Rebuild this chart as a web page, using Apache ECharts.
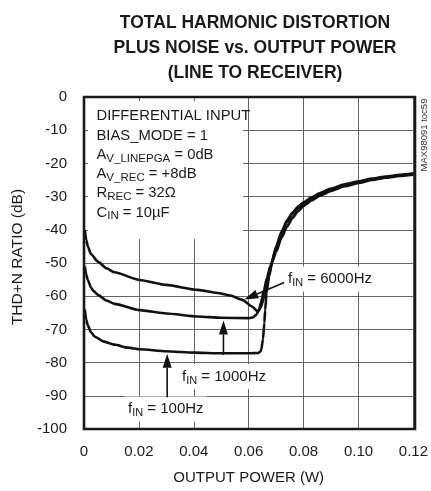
<!DOCTYPE html>
<html><head><meta charset="utf-8">
<script src="https://cdn.jsdelivr.net/npm/echarts@6/dist/echarts.min.js"></script>
<style>html,body{margin:0;padding:0;background:#fff}#c{width:431px;height:491px}</style>
</head><body><div id="c"></div>
<script>
// ---- data (output power W, THD+N dB) ----
const thd100 = [[0.0003,-64],[0.0008,-67],[0.0014,-68.8],[0.0025,-70.8],[0.004,-72.2],[0.007,-73.6],[0.0111,-74.6],[0.016,-75.5],[0.0203,-76],[0.03,-76.6],[0.04,-77],[0.05,-77.2],[0.06,-77.2],[0.0635,-77.1],[0.0645,-76.5],[0.0652,-73],[0.0657,-68],[0.066,-64.2],[0.0665,-59.1],[0.0674,-54.1],[0.0686,-49.6],[0.07,-46.6],[0.072,-42.3],[0.074,-39],[0.076,-36.4],[0.078,-34.4],[0.08,-32.8],[0.083,-31.1],[0.086,-29.7],[0.09,-28.3],[0.095,-26.9],[0.1,-25.9],[0.105,-25],[0.11,-24.3],[0.115,-23.8],[0.12,-23.4]];
const thd1000 = [[0.0003,-51],[0.0008,-53.5],[0.0014,-55.1],[0.0025,-57.3],[0.0034,-58.4],[0.0051,-59.6],[0.0082,-61.3],[0.0111,-62.3],[0.0203,-64.2],[0.03,-65.2],[0.0414,-66.1],[0.05,-66.5],[0.0602,-66.6],[0.0615,-66.4],[0.0626,-65.7],[0.0638,-64.2],[0.0644,-62.1],[0.0656,-58.1],[0.0666,-54.6],[0.068,-50.6],[0.07,-45.5],[0.072,-41],[0.074,-37.6],[0.076,-35.2],[0.078,-33.4],[0.08,-32.1],[0.083,-30.5],[0.086,-29.2],[0.09,-27.9],[0.095,-26.6],[0.1,-25.6],[0.105,-24.8],[0.11,-24.1],[0.115,-23.6],[0.12,-23.2]];
const thd6000 = [[0.0003,-40],[0.0008,-43],[0.0014,-45],[0.0025,-47.3],[0.0051,-49.6],[0.0082,-51.6],[0.0111,-52.8],[0.0203,-55.1],[0.03,-56.6],[0.0414,-58.1],[0.0493,-59.1],[0.0529,-59.7],[0.0577,-61.1],[0.0614,-63.2],[0.0632,-64.6],[0.0644,-63.4],[0.0656,-60.2],[0.0665,-57.2],[0.0674,-53.8],[0.068,-51.4],[0.07,-45],[0.072,-40.5],[0.074,-37.1],[0.076,-34.8],[0.078,-33],[0.08,-31.7],[0.083,-30.2],[0.086,-28.9],[0.09,-27.6],[0.095,-26.3],[0.1,-25.4],[0.105,-24.6],[0.11,-23.95],[0.115,-23.45],[0.12,-23]];
const seriesNames = ['fIN = 100Hz','fIN = 1000Hz','fIN = 6000Hz'];
const xTickValues = [0,0.02,0.04,0.06,0.08,0.10,0.12];
const xTickLabels = ['0','0.02','0.04','0.06','0.08','0.10','0.12'];
const yTickValues = [0,-10,-20,-30,-40,-50,-60,-70,-80,-90,-100];
const yTickLabels = ['0','-10','-20','-30','-40','-50','-60','-70','-80','-90','-100'];
const titleLines = ['TOTAL HARMONIC DISTORTION','PLUS NOISE vs. OUTPUT POWER','(LINE TO RECEIVER)'];
const xName = 'OUTPUT POWER (W)';
const yName = 'THD+N RATIO (dB)';
const noteLines = ['{m|DIFFERENTIAL INPUT}','{m|BIAS_MODE = 1}','{m|A}{s|V_LINEPGA}{m| = 0dB}','{m|A}{s|V_REC}{m| = +8dB}','{m|R}{s|REC}{m| = 32Ω}','{m|C}{s|IN}{m| = 10µF}'];
const arrow100 = [[0.0303,-90.4],[0.0303,-77.3]];
const arrow1000 = [[0.0508,-77.7],[0.0508,-67.3]];
const arrow6000 = [[0.0729,-55.9],[0.0584,-61.0]];

const FF = "'Liberation Sans', Arial, Helvetica, sans-serif";
const INK = '#1a1a1a';
const G = {left:84, top:97, width:331, height:332};

const chart = echarts.init(document.getElementById('c'), null, {renderer:'canvas'});
const lineSeries = (name, data) => ({
  name, type:'line', data, showSymbol:false, smooth:0.2, smoothMonotone:'x',
  lineStyle:{color:'#111', width:2.6}, z:2, animation:false
});
const option = {
  animation:false,
  backgroundColor:'#fff',
  title:{
    text: titleLines.join('\n'), left:250, top:6, textAlign:'center',
    textStyle:{fontFamily:FF, fontSize:17.5, fontWeight:'bold', color:INK, lineHeight:25}
  },
  grid:{left:G.left, top:G.top, width:G.width, height:G.height, containLabel:false},
  xAxis:{
    type:'value', min:0, max:0.12, interval:0.02,
    name:xName, nameLocation:'middle', nameGap:41,
    nameTextStyle:{fontFamily:FF, fontSize:15, color:INK},
    axisLine:{show:false}, axisTick:{show:false},
    axisLabel:{fontFamily:FF, fontSize:15, color:INK, margin:15,
      formatter:v => { const i = xTickValues.findIndex(t => Math.abs(t - v) < 1e-9); return i >= 0 ? xTickLabels[i] : ''; }},
    splitLine:{show:true, lineStyle:{color:'#666', width:1}}
  },
  yAxis:{
    type:'value', min:-100, max:0, interval:10,
    name:yName, nameLocation:'middle', nameGap:56, nameRotate:90,
    nameTextStyle:{fontFamily:FF, fontSize:15.5, color:INK, padding:[0,0,0,12]},
    axisLine:{show:false}, axisTick:{show:false},
    axisLabel:{fontFamily:FF, fontSize:15, color:INK, margin:17,
      formatter:v => { const i = yTickValues.findIndex(t => Math.abs(t - v) < 1e-9); return i >= 0 ? yTickLabels[i] : ''; }},
    splitLine:{show:true, lineStyle:{color:'#666', width:1}}
  },
  series:[lineSeries(seriesNames[0], thd100), lineSeries(seriesNames[1], thd1000), lineSeries(seriesNames[2], thd6000)]
};
chart.setOption(option);

function arrowEls(a, id) {
  const p0 = chart.convertToPixel({xAxisIndex:0, yAxisIndex:0}, a[0]);
  const p1 = chart.convertToPixel({xAxisIndex:0, yAxisIndex:0}, a[1]);
  const dx = p1[0]-p0[0], dy = p1[1]-p0[1], L = Math.hypot(dx,dy);
  const ux = dx/L, uy = dy/L, len = 14, hw = 4.5;
  const bx = p1[0]-ux*len, by = p1[1]-uy*len;
  return [
    {type:'line', id:id+'l', z:5, shape:{x1:p0[0], y1:p0[1], x2:bx, y2:by}, style:{stroke:'#111', lineWidth:1.6}},
    {type:'polygon', id:id+'h', z:5, shape:{points:[[p1[0],p1[1]],[bx-uy*hw,by+ux*hw],[bx+uy*hw,by-ux*hw]]}, style:{fill:'#111'}}
  ];
}
const labRich = {
  m:{fontFamily:FF, fontSize:15, lineHeight:19, fill:INK},
  s:{fontFamily:FF, fontSize:11, lineHeight:11, fill:INK, verticalAlign:'bottom'}
};
const label = (id, txt, x, y) => ({type:'text', id, x, y, z:3,
  style:{text:txt, rich:labRich, fill:INK, font:'15px '+FF, backgroundColor:'#fff', padding:[3,3,3,3], align:'left', verticalAlign:'top'}});

const elements = [
  {type:'rect', id:'noteBg', z:1, shape:{x:88, y:101, width:155, height:138}, style:{fill:'#fff'}},
  {type:'text', id:'note', x:96.5, y:106.5, z:3, style:{text:noteLines.join('\n'), fill:INK, font:'14.5px '+FF, align:'left', verticalAlign:'top',
    rich:{m:{fontFamily:FF, fontSize:14.8, lineHeight:19.3, fill:INK}, s:{fontFamily:FF, fontSize:11.5, lineHeight:12, fill:INK, verticalAlign:'bottom'}}}},
  label('l6000', '{m|f}{s|IN}{m| = 6000Hz}', 285, 266.5),
  label('l1000', '{m|f}{s|IN}{m| = 1000Hz}', 179, 364),
  label('l100', '{m|f}{s|IN}{m| = 100Hz}', 125, 396.5),
  {type:'text', id:'code', x:424, y:135, rotation:Math.PI/2, z:3, style:{text:'MAX98091 toc59', fill:'#333', font:'9.5px '+FF, align:'center', verticalAlign:'middle'}},
  {type:'rect', id:'frame', z:10, shape:{x:G.left, y:G.top, width:G.width, height:G.height}, style:{fill:'none', stroke:'#1a1a1a', lineWidth:2.6}}
].concat(arrowEls(arrow100,'a1'), arrowEls(arrow1000,'a2'), arrowEls(arrow6000,'a3'));
chart.setOption({graphic:{elements}});
</script></body></html>
